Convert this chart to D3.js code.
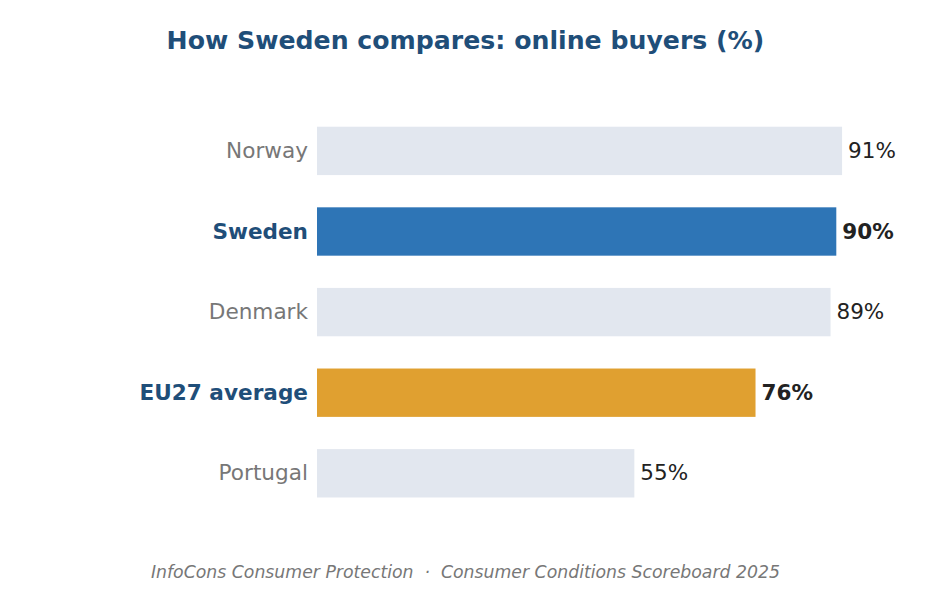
<!DOCTYPE html>
<html><head><meta charset="utf-8">
<script src="https://cdn.jsdelivr.net/npm/d3@7"></script>
<style>body{margin:0;background:#fff;}svg{display:block;font-family:"DejaVu Sans",sans-serif;}</style>
</head><body>
<svg id="c" width="931" height="589"></svg>
<script>
const categories = ["Norway","Sweden","Denmark","EU27 average","Portugal"];
const values = [91,90,89,76,55];
const highlight = ["normal","sweden","normal","eu","normal"];
const title = "How Sweden compares: online buyers (%)";
const footer = "InfoCons Consumer Protection  \u00b7  Consumer Conditions Scoreboard 2025";

const colors = {normal:"#e2e7ef", sweden:"#2e75b6", eu:"#e0a030"};
const svg = d3.select("#c");
const x = d3.scaleLinear().domain([0,100]).range([317, 894]);
const y = d3.scaleBand().domain(categories).range([110.6, 513.6]).paddingInner(0.4).paddingOuter(0.2);

svg.append("text").attr("x",465.5).attr("y",49).attr("text-anchor","middle")
  .attr("font-size",25.2).attr("font-weight","bold").attr("fill","#1f4e79").text(title);

const data = categories.map((c,i)=>({c, v:values[i], h:highlight[i]}));

svg.selectAll("rect.bar").data(data).join("rect").attr("class","bar")
  .attr("x",x(0)).attr("y",d=>y(d.c)).attr("width",d=>x(d.v)-x(0)).attr("height",y.bandwidth())
  .attr("fill",d=>colors[d.h]);

svg.selectAll("text.cat").data(data).join("text").attr("class","cat")
  .attr("x",308).attr("y",d=>y(d.c)+y.bandwidth()/2-0.5).attr("dy","0.35em").attr("text-anchor","end")
  .attr("font-size",21.6).attr("font-weight",d=>d.h==="normal"?"normal":"bold")
  .attr("fill",d=>d.h==="normal"?"#777777":"#1f4e79").text(d=>d.c);

svg.selectAll("text.val").data(data).join("text").attr("class","val")
  .attr("x",d=>x(d.v)+6).attr("y",d=>y(d.c)+y.bandwidth()/2-0.5).attr("dy","0.35em")
  .attr("font-size",21.5).attr("font-weight",d=>d.h==="normal"?"normal":"bold")
  .attr("fill","#222222").text(d=>d.v+"%");

svg.append("text").attr("x",465.5).attr("y",578).attr("text-anchor","middle")
  .attr("font-size",17.3).attr("font-style","italic").attr("fill","#777777")
  .attr("xml:space","preserve").style("white-space","pre").text(footer);
</script>
</body></html>
